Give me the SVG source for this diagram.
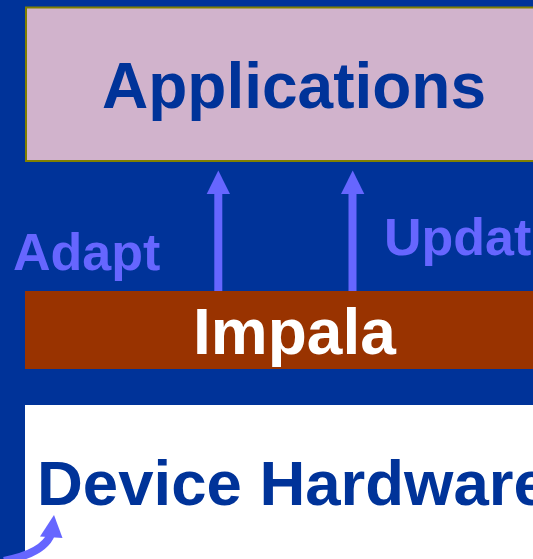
<svg xmlns="http://www.w3.org/2000/svg" width="533" height="559" viewBox="0 0 533 559">
  <defs>
    <style>
      .lbl { font-family: "Liberation Sans", Arial, sans-serif; font-weight: bold; }
      .arrow-shaft { stroke: #6666FF; stroke-width: 8; fill: none; }
      .arrow-head { fill: #6666FF; }
    </style>
  </defs>

  <!-- page background -->
  <rect x="0" y="0" width="533" height="559" fill="#003399"/>

  <!-- top layer -->
  <g id="applications">
    <rect x="26" y="7.5" width="520" height="153.5" fill="#D1B3CC" stroke="#808000" stroke-width="2"/>
    <text class="lbl" x="102" y="108" font-size="64" fill="#003399">Applications</text>
  </g>

  <!-- middleware layer -->
  <g id="impala">
    <rect x="25" y="291" width="520" height="78" fill="#993300"/>
    <text class="lbl" x="193" y="354" font-size="64" fill="#FFFFFF">Impala</text>
  </g>

  <!-- hardware layer -->
  <g id="device-hardware">
    <rect x="25" y="405" width="520" height="160" fill="#FFFFFF"/>
    <text class="lbl" x="37" y="505" font-size="63.5" fill="#003399">Device Hardware</text>
  </g>

  <!-- arrows between layers -->
  <g id="connectors">
    <line class="arrow-shaft" x1="218.3" y1="291" x2="218.3" y2="190"/>
    <polygon class="arrow-head" points="218.3,170.5 230,194 206.7,194"/>
    <line class="arrow-shaft" x1="352.5" y1="291" x2="352.5" y2="190"/>
    <polygon class="arrow-head" points="352.7,170.5 364.3,194 341,194"/>
    <path class="arrow-shaft" stroke-width="7" d="M 4 561 Q 44 553 51 534"/>
    <polygon class="arrow-head" points="54,515 62.5,538 40,536.5"/>
  </g>

  <!-- arrow labels -->
  <g id="labels">
    <text class="lbl" x="13" y="270" font-size="52" fill="#6666FF">Adapt</text>
    <text class="lbl" x="384" y="255" font-size="52" fill="#6666FF">Updat</text>
  </g>
</svg>
